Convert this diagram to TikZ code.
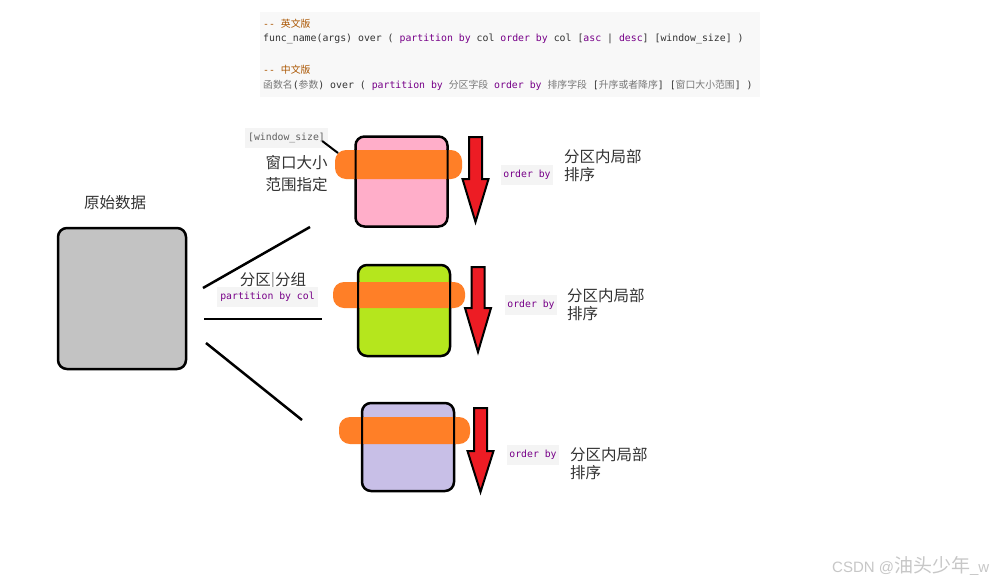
\documentclass[tikz,border=0pt]{standalone}
\usepackage{fontspec}
\setmainfont{Liberation Sans}
\setmonofont{DejaVu Sans Mono}
\newfontfamily\cjk{Noto Sans CJK SC}
\definecolor{kwc}{HTML}{770088}
\definecolor{cmc}{HTML}{AA5500}
\definecolor{cjkgray}{HTML}{777777}
\definecolor{codetext}{HTML}{333333}
\definecolor{codebgc}{HTML}{F8F8F8}
\definecolor{lblbg}{HTML}{F4F4F4}
\definecolor{labeltext}{HTML}{333333}
\definecolor{grayfill}{HTML}{C3C3C3}
\definecolor{pinkfill}{HTML}{FFAEC9}
\definecolor{greenfill}{HTML}{B5E61D}
\definecolor{lavfill}{HTML}{C8BFE7}
\definecolor{bandorange}{HTML}{FF7F27}
\definecolor{arrowred}{HTML}{ED1C24}
\newcommand\codekw[1]{\textcolor{kwc}{#1}}
\newcommand\codecjk[1]{\textcolor{cjkgray}{\cjk #1}}
\newcommand\ordarrow[4]{\draw[arrowsty] (#1-6.5,#2) -- (#1+6.5,#2) -- (#1+6.5,#3) -- (#1+13,#3) -- (#1,#4) -- (#1-13,#3) -- (#1-6.5,#3) -- cycle;}
\begin{document}
\begin{tikzpicture}[x=1pt,y=-1pt,
  codeline/.style={anchor=west,inner sep=0,text=codetext,font=\ttfamily\fontsize{9.85}{12}\selectfont},
  tag/.style={fill=lblbg,inner sep=0,minimum height=20,text=kwc,font=\ttfamily\fontsize{9.8}{12}\selectfont},
  cjklabel/.style={inner sep=0,text=labeltext,font=\cjk\fontsize{15.5}{18}\selectfont,align=left},
  databox/.style={draw=black,line width=2.5,rounded corners=9,inner sep=0},
  band/.style={fill=bandorange,rounded corners=11,inner sep=0},
  boxedge/.style={draw=black,line width=2,rounded corners=9,inner sep=0},
  splitline/.style={draw=black,line width=2.5},
  arrowsty/.style={draw=black,line width=2,fill=arrowred,line join=miter}
]
\useasboundingbox (0,0) rectangle (1008,584);
\fill[white] (0,0) rectangle (1008,584);

% code block
\node[fill=codebgc,minimum width=500,minimum height=85,anchor=north west,inner sep=0] (code) at (260,12) {};
\node[codeline] (c1) at (263,24) {\textcolor{cmc}{-{}- {\cjk 英文版}}};
\node[codeline] (c2) at (263,39) {func\_name(args) over ( \codekw{partition by} col \codekw{order by} col [\codekw{asc} | \codekw{desc}] [window\_size] )};
\node[codeline] (c3) at (263,70) {\textcolor{cmc}{-{}- {\cjk 中文版}}};
\node[codeline] (c4) at (263,85) {\codecjk{函数名}(\codecjk{参数}) over ( \codekw{partition by} \codecjk{分区字段} \codekw{order by} \codecjk{排序字段} [\codecjk{升序或者降序}] [\codecjk{窗口大小范围}] )};

% source data
\node[cjklabel] (srclbl) at (115,203) {原始数据};
\node[databox,fill=grayfill,minimum width=128,minimum height=141] (src) at (122,298.5) {};

% split lines
\coordinate (l1a) at (203,288); \coordinate (l1b) at (310,227);
\coordinate (l2a) at (204,319); \coordinate (l2b) at (322,319);
\coordinate (l3a) at (206,343); \coordinate (l3b) at (302,420);
\draw[splitline] (l1a) -- (l1b);
\draw[splitline] (l2a) -- (l2b);
\draw[splitline] (l3a) -- (l3b);
\node[cjklabel] (grp) at (273,281) {分区{\color{gray}|}分组};
\node[tag,minimum width=101] (part) at (267.5,297) {partition by col};

% partition 1
\node[databox,fill=pinkfill,minimum width=92,minimum height=90] (p1) at (401.5,181.5) {};
\node[band,minimum width=127,minimum height=29] (b1) at (398.5,164.5) {};
\begin{scope}
\clip (b1.south west) rectangle (b1.north east);
\node[boxedge,minimum width=92,minimum height=90] at (p1) {};
\end{scope}
\ordarrow{475.5}{137}{179}{222}
\node[tag,minimum width=52,text=kwc] (o1) at (527,175) {order by};
\node[cjklabel,anchor=west] (t1) at (564,165.5) {分区内局部\\排序};

% window size
\node[fill=lblbg,inner sep=0,minimum width=83,minimum height=20,text=cjkgray!80!black,font=\ttfamily\fontsize{9.8}{12}\selectfont] (ws) at (286.5,138) {[window\_size]};
\coordinate (wsend) at (338,153);
\draw[black,line width=2] (ws.east) ++(-6,3) coordinate (wsstart) -- (wsend);
\node[cjklabel,font=\cjk\fontsize{15.5}{22}\selectfont] (wlbl) at (296.5,174) {窗口大小\\范围指定};

% partition 2
\node[databox,fill=greenfill,minimum width=92,minimum height=91] (p2) at (404,310.5) {};
\node[band,minimum width=132,minimum height=26] (b2) at (399,295) {};
\begin{scope}
\clip (b2.south west) rectangle (b2.north east);
\node[boxedge,minimum width=92,minimum height=91] at (p2) {};
\end{scope}
\ordarrow{478}{267}{308}{352}
\node[tag,minimum width=52] (o2) at (531,305) {order by};
\node[cjklabel,anchor=west] (t2) at (567,304.5) {分区内局部\\排序};

% partition 3
\node[databox,fill=lavfill,minimum width=92,minimum height=88] (p3) at (408,447) {};
\node[band,minimum width=131,minimum height=27] (b3) at (404.5,430.5) {};
\begin{scope}
\clip (b3.south west) rectangle (b3.north east);
\node[boxedge,minimum width=92,minimum height=88] at (p3) {};
\end{scope}
\ordarrow{480.5}{408}{451}{492}
\node[tag,minimum width=52] (o3) at (533,455) {order by};
\node[cjklabel,anchor=west] (t3) at (570,463.5) {分区内局部\\排序};

% watermark
\node[anchor=west,inner sep=0,text=black!22,font=\fontsize{15}{18}\selectfont] (wm) at (832,566) {CSDN @{\cjk\fontsize{19}{20}\selectfont 油头少年}\_w};
\end{tikzpicture}
\end{document}
